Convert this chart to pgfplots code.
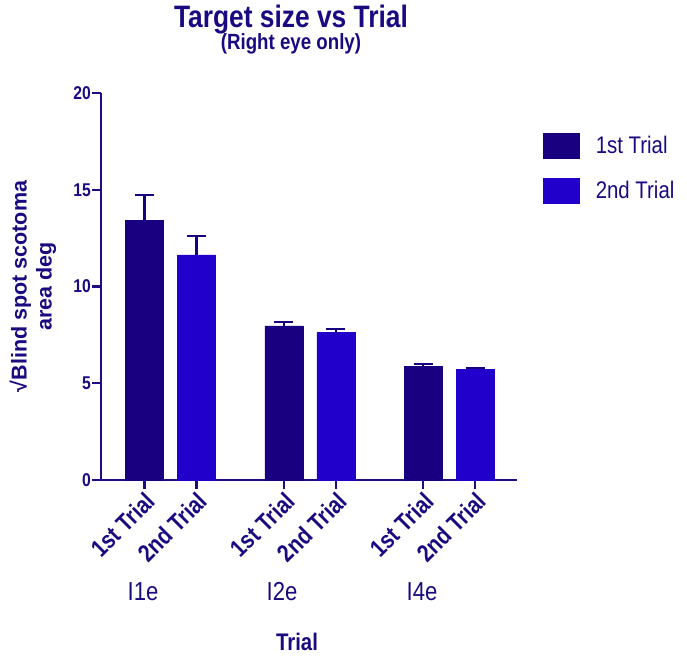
\documentclass[border=0pt]{standalone}
\usepackage{fontspec}
\setmainfont{Liberation Sans}[FakeStretch=0.85]
\newfontfamily\ylfont{Liberation Sans}
\usepackage{pgfplots}
\pgfplotsset{compat=1.18}
\definecolor{cA}{RGB}{24,0,128}
\definecolor{cB}{RGB}{33,0,204}
\definecolor{ax}{RGB}{28,14,130}
\definecolor{tx}{RGB}{26,10,128}
\begin{document}
\begin{tikzpicture}
\path[use as bounding box] (-101bp,-176bp) rectangle (586bp,480bp);
\begin{axis}[
 scale only axis, width=416bp, height=387bp,
 xmin=0.163, xmax=8.163, ymin=0, ymax=20,
 axis lines=left, axis line style={-, ax, line width=2.4bp},
 tick align=outside, major tick length=9bp,
 tick style={ax, line width=2.4bp},
 ytick={0,5,10,15,20},
 xtick={1,2,3.68,4.68,6.36,7.36},
 xticklabels={1st Trial,2nd Trial,1st Trial,2nd Trial,1st Trial,2nd Trial},
 /pgf/number format/assume math mode=true,
 yticklabel style={font=\fontsize{18.5bp}{18.5bp}\selectfont\bfseries, text=tx, inner sep=1bp},
 xticklabel style={font=\fontsize{24.5bp}{24.5bp}\selectfont\bfseries, text=tx, rotate=45, anchor=north east, inner sep=1bp},
 clip=false,
 legend cell align=left,
 legend style={at={(axis description cs:1.0625,0.8966)}, anchor=north west, draw=none, fill=none, inner sep=0pt, row sep=19bp, font=\fontsize{24bp}{24bp}\selectfont, text=tx, nodes={inner sep=0pt, anchor=west}, /tikz/every odd column/.append style={column sep=16bp}},
]
\addplot[ybar, bar width=38bp, bar shift=0pt, fill=cA, draw=cA, line width=0.6bp,
  legend image code/.code={\fill[cA] (0bp,-12.5bp) rectangle (36bp,12.5bp);},
  error bars/.cd, y dir=plus, y explicit, error bar style={line width=2.4bp, color=cA}, error mark options={rotate=90, line width=2.4bp, mark size=9.5bp, color=cA}]
  coordinates {(1,13.40) +- (0,1.33) (3.68,7.96) +- (0,0.22) (6.36,5.86) +- (0,0.12)};
\addlegendentry{1st Trial}
\addplot[ybar, bar width=38bp, bar shift=0pt, fill=cB, draw=cB, line width=0.6bp,
  legend image code/.code={\fill[cB] (0bp,-12.5bp) rectangle (36bp,12.5bp);},
  error bars/.cd, y dir=plus, y explicit, error bar style={line width=2.4bp, color=cA}, error mark options={rotate=90, line width=2.4bp, mark size=9.5bp, color=cA}]
  coordinates {(2,11.63) +- (0,0.98) (4.68,7.61) +- (0,0.19) (7.36,5.72) +- (0,0.08)};
\addlegendentry{2nd Trial}
\end{axis}
\node[text=tx, font=\fontsize{31bp}{31bp}\selectfont\bfseries, anchor=base] at (190bp,452bp) {Target size vs Trial};
\node[text=tx, font=\fontsize{22bp}{22bp}\selectfont\bfseries, anchor=base] at (190bp,430bp) {(Right eye only)};
\node[text=tx, font=\fontsize{24bp}{24bp}\selectfont\bfseries] at (196bp,-162bp) {Trial};
\node[text=tx, font=\fontsize{26bp}{26bp}\selectfont] at (42bp,-112bp) {I1e};
\node[text=tx, font=\fontsize{26bp}{26bp}\selectfont] at (181bp,-112bp) {I2e};
\node[text=tx, font=\fontsize{26bp}{26bp}\selectfont] at (321bp,-112bp) {I4e};
\node[text=tx, font=\ylfont\fontsize{21.5bp}{25bp}\selectfont\bfseries, rotate=90, align=center] at (-68bp,193.5bp) {√Blind spot scotoma\\area deg};
\end{tikzpicture}
\end{document}
